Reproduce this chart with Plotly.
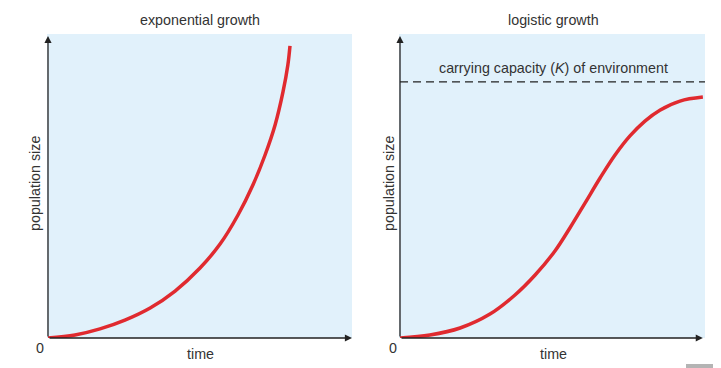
import plotly.graph_objects as go

# Exponential growth curve (time, population size)
exp_time = [0, 0.89, 1.71, 2.53, 3.36, 4.18, 5.0, 5.66, 6.25, 6.74, 7.14, 7.47, 7.73, 7.89, 7.96]
exp_pop = [0, 0.1, 0.3, 0.59, 0.99, 1.55, 2.31, 3.1, 4.06, 5.05, 6.04, 7.03, 8.12, 9.01, 9.64]

# Logistic growth curve
log_time = [0, 0.98, 1.97, 2.95, 3.77, 4.43, 5.08, 5.57, 6.07, 6.56, 7.05, 7.54, 8.03, 8.52, 9.18, 9.93]
log_pop = [0, 0.1, 0.33, 0.79, 1.42, 2.08, 2.87, 3.63, 4.46, 5.28, 6.04, 6.67, 7.16, 7.52, 7.82, 7.95]

carrying_capacity = 8.45
panel_titles = ["exponential growth", "logistic growth"]
x_label = "time"
y_label = "population size"
K_label = "carrying capacity (<i>K</i>) of environment"

RED = "#e02a2f"
TXT = "#333333"
FONT = "Liberation Sans, Arial, Helvetica, sans-serif"
FS = 14.3

# page body has an 8px margin; compensate so the figure lands on the reference pixels
OFF = 8
W, H = 721 - OFF, 368 - OFF


def px_x(p):
    return (p - OFF) / W


def px_y(p):
    return 1 - (p - OFF) / H


fig = go.Figure()

fig.add_trace(go.Scatter(x=exp_time, y=exp_pop, mode="lines",
                         line=dict(color=RED, width=3.5, shape="spline", smoothing=1),
                         xaxis="x", yaxis="y", hoverinfo="skip"))
fig.add_trace(go.Scatter(x=log_time, y=log_pop, mode="lines",
                         line=dict(color=RED, width=3.5, shape="spline", smoothing=1),
                         xaxis="x2", yaxis="y2", hoverinfo="skip"))

ax_common = dict(showgrid=False, zeroline=False, showticklabels=False, ticks="", showline=False, fixedrange=True)

fig.update_layout(
    width=W, height=H,
    margin=dict(l=0, r=0, t=0, b=0),
    paper_bgcolor="white",
    plot_bgcolor="rgba(0,0,0,0)",
    showlegend=False,
    font=dict(family=FONT, color=TXT, size=FS),
    xaxis=dict(domain=[px_x(48), px_x(352)], range=[0, 10], anchor="y", **ax_common),
    yaxis=dict(domain=[px_y(338), px_y(35)], range=[0, 10], anchor="x", **ax_common),
    xaxis2=dict(domain=[px_x(400), px_x(705)], range=[0, 10], anchor="y2", **ax_common),
    yaxis2=dict(domain=[px_y(338), px_y(35)], range=[0, 10], anchor="x2", **ax_common),
)

shapes = [
    dict(type="rect", xref="paper", yref="paper", x0=px_x(47), x1=px_x(352), y0=px_y(338), y1=px_y(34),
         fillcolor="#e1f1fb", line=dict(width=0), layer="below"),
    dict(type="rect", xref="paper", yref="paper", x0=px_x(399), x1=px_x(705), y0=px_y(338), y1=px_y(34),
         fillcolor="#e1f1fb", line=dict(width=0), layer="below"),
    dict(type="line", xref="x2", yref="y2", x0=0, x1=10, y0=carrying_capacity, y1=carrying_capacity,
         line=dict(color="#222222", width=1.2, dash="8px,5px")),
    dict(type="rect", xref="paper", yref="paper", x0=px_x(686), x1=1, y0=0, y1=px_y(364),
         fillcolor="#b4b4b4", line=dict(width=0)),
]
fig.update_layout(shapes=shapes)

annotations = []
for xr, yr, xtip in [("x", "y", 10.0), ("x2", "y2", 9.93)]:
    annotations.append(dict(x=0, y=9.97, ax=0, ay=0, xref=xr, yref=yr, axref=xr, ayref=yr, text="",
                            showarrow=True, arrowhead=2, arrowsize=1.1, arrowwidth=1.3, arrowcolor="#222222"))
    annotations.append(dict(x=xtip, y=0, ax=0, ay=0, xref=xr, yref=yr, axref=xr, ayref=yr, text="",
                            showarrow=True, arrowhead=2, arrowsize=1.1, arrowwidth=1.3, arrowcolor="#222222"))


def txt(x, y, t, angle=0):
    return dict(x=px_x(x), y=px_y(y), xref="paper", yref="paper", text=t, showarrow=False,
                xanchor="center", yanchor="middle", textangle=angle,
                font=dict(size=FS, color=TXT, family=FONT))


annotations += [
    txt(200, 20, panel_titles[0]),
    txt(553, 20, panel_titles[1]),
    txt(553, 68, K_label),
    txt(200, 354, x_label),
    txt(553, 354, x_label),
    txt(40, 348, "0"),
    txt(393, 348, "0"),
    txt(35, 184, y_label, angle=-90),
    txt(389, 184, y_label, angle=-90),
]
fig.update_layout(annotations=annotations)

fig.write_html("out.html")
